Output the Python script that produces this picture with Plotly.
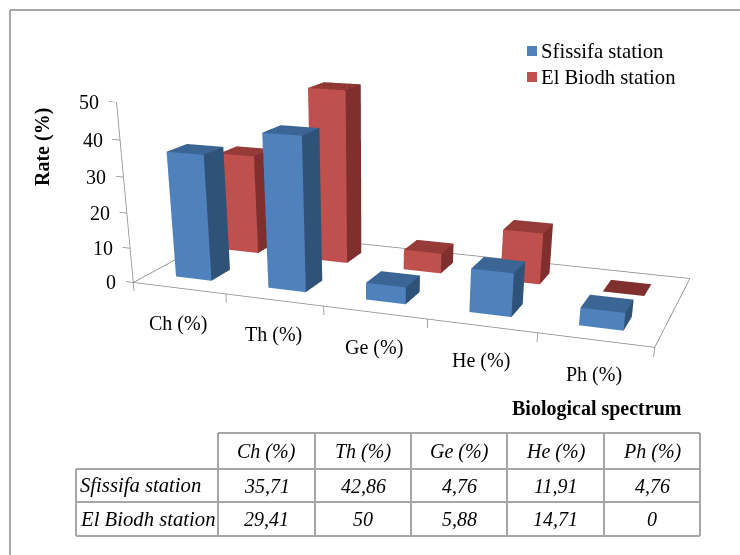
import plotly.graph_objects as go

categories = ["Ch (%)", "Th (%)", "Ge (%)", "He (%)", "Ph (%)"]
sfissifa = [35.71, 42.86, 4.76, 11.91, 4.76]
el_biodh = [29.41, 50, 5.88, 14.71, 0]
sfissifa_labels = ["35,71", "42,86", "4,76", "11,91", "4,76"]
el_biodh_labels = ["29,41", "50", "5,88", "14,71", "0"]
z_ticks = [0, 10, 20, 30, 40, 50]

XR = (-0.1, 5.1); YR = (0.0, 1.0); ZR = (-3.0, 50.0)
EYE = (1.1673, -3.380, 0.853)
CENTER = (-0.0997, -0.104, -0.971)
ASPECT = (1.6283, 0.648, 0.557)

# The reference's vanishing points put its optical centre well below the picture,
# so the 3D canvas is taller than the window and the page clips it to 740x555.
W = 740
H = 1002
FONT = "Liberation Serif"
FS = 20
FS_LONG = 20.7
def PX(x): return x / W
def PY(y): return 1 - y / H

def bars(vals, y0, y1, front, side, top, name):
    xs, ys, zs, I, J, K, fc = [], [], [], [], [], [], []
    for i, v in enumerate(vals):
        x0, x1 = i + 0.29, i + 0.68
        b = len(xs)
        for px, py, pz in [(x0,y0,0),(x1,y0,0),(x1,y1,0),(x0,y1,0),(x0,y0,v),(x1,y0,v),(x1,y1,v),(x0,y1,v)]:
            xs.append(px); ys.append(py); zs.append(pz)
        faces = [((0,1,5),front),((0,5,4),front),((1,2,6),side),((1,6,5),side),((4,5,6),top),((4,6,7),top),
                 ((3,2,6),side),((3,6,7),side),((0,3,7),side),((0,7,4),side),((0,1,2),side),((0,2,3),side)]
        for (a, c, d), col in faces:
            I.append(b+a); J.append(b+c); K.append(b+d); fc.append(col)
    return go.Mesh3d(x=xs, y=ys, z=zs, i=I, j=J, k=K, facecolor=fc, flatshading=True, name=name, hoverinfo="skip",
                     lighting=dict(ambient=1, diffuse=0, specular=0, roughness=1, fresnel=0))

fig = go.Figure()
fig.add_trace(bars(sfissifa, .155, .345, "#4F81BD", "#2F5378", "#3A6595", "Sfissifa station"))
fig.add_trace(bars(el_biodh, .655, .845, "#C0504D", "#7F302E", "#973B38", "El Biodh station"))

lx = [0,5,5,0,0,None,0,0]; ly = [0,0,1,1,0,None,0,0]; lz = [0,0,0,0,0,None,0,50]
for t in z_ticks:
    lx += [None,-0.08,0]; ly += [None,0,0]; lz += [None,t,t]
for i in range(6):
    lx += [None,i,i]; ly += [None,0,0]; lz += [None,0,-2.5]
fig.add_trace(go.Scatter3d(x=lx, y=ly, z=lz, mode="lines", line=dict(color="#868686", width=1.5), hoverinfo="skip", showlegend=False))

ann = []
for i, c in enumerate(categories):
    ann.append(dict(x=i+0.5, y=0, z=0, text=c, showarrow=False, xshift=-1, yshift=-35, font=dict(family=FONT, size=FS, color="black")))
for t in z_ticks:
    ann.append(dict(x=0, y=0, z=t, text=str(t), showarrow=False, xanchor="right", xshift=-15, font=dict(family=FONT, size=FS, color="black")))

shapes = []; notes = []
GR = "#A6A6A6"
def seg(x0, y0, x1, y1, c=GR, w=2):
    shapes.append(dict(type="line", xref="paper", yref="paper", x0=PX(x0), y0=PY(y0), x1=PX(x1), y1=PY(y1), line=dict(color=c, width=w)))
def txt(x, y, t, size=FS, bold=False, italic=False, anchor="center", angle=0):
    s = t
    if bold: s = f"<b>{s}</b>"
    if italic: s = f"<i>{s}</i>"
    notes.append(dict(x=PX(x), y=PY(y), xref="paper", yref="paper", text=s, showarrow=False, xanchor=anchor, yanchor="middle",
                      textangle=angle, font=dict(family=FONT, size=size, color="black")))

seg(10, 10, 740, 10); seg(10, 10, 10, 555)
shapes.append(dict(type="rect", xref="paper", yref="paper", x0=PX(527), x1=PX(537), y0=PY(46), y1=PY(56), fillcolor="#4F81BD", line=dict(width=0)))
shapes.append(dict(type="rect", xref="paper", yref="paper", x0=PX(527), x1=PX(537), y0=PY(72), y1=PY(82), fillcolor="#C0504D", line=dict(width=0)))
txt(539, 51, "Sfissifa station", size=FS_LONG, anchor="left")
txt(539, 77, "El Biodh station", size=FS_LONG, anchor="left")
txt(42, 147, "Rate (%)", bold=True, angle=-90)
txt(597, 408, "Biological spectrum", bold=True)

vx = [76, 218, 315, 411, 507, 604, 700]; hy = [433, 469, 502, 536]
seg(vx[1], hy[0], vx[6], hy[0]); seg(vx[0], hy[1], vx[6], hy[1]); seg(vx[0], hy[2], vx[6], hy[2]); seg(vx[0], hy[3], vx[6], hy[3])
seg(vx[0], hy[1], vx[0], hy[3])
for v in vx[1:]:
    seg(v, hy[0], v, hy[3])
rows = [("Sfissifa station", sfissifa_labels), ("El Biodh station", el_biodh_labels)]
for j, c in enumerate(categories):
    txt((vx[j+1]+vx[j+2])/2, (hy[0]+hy[1])/2, c, italic=True)
for r, (name, vals) in enumerate(rows):
    yc = (hy[r+1]+hy[r+2])/2
    txt(vx[0]+2, yc, name, size=FS_LONG, italic=True, anchor="left")
    for j, v in enumerate(vals):
        txt((vx[j+1]+vx[j+2])/2, yc, v, italic=True)

fig.update_layout(width=W, height=H, margin=dict(l=0, r=0, t=0, b=0), paper_bgcolor="white", showlegend=False, shapes=shapes, annotations=notes,
    scene=dict(domain=dict(x=[0,1], y=[0,1]),
        xaxis=dict(visible=False, range=list(XR)), yaxis=dict(visible=False, range=list(YR)), zaxis=dict(visible=False, range=list(ZR)),
        aspectmode="manual", aspectratio=dict(x=ASPECT[0], y=ASPECT[1], z=ASPECT[2]),
        camera=dict(eye=dict(x=EYE[0], y=EYE[1], z=EYE[2]), center=dict(x=CENTER[0], y=CENTER[1], z=CENTER[2]), up=dict(x=0, y=0, z=1)),
        annotations=ann))
fig.write_html("out.html", config={"displayModeBar": False},
               post_script="document.documentElement.style.overflow='hidden';document.body.style.overflow='hidden';document.body.style.margin='0';")
